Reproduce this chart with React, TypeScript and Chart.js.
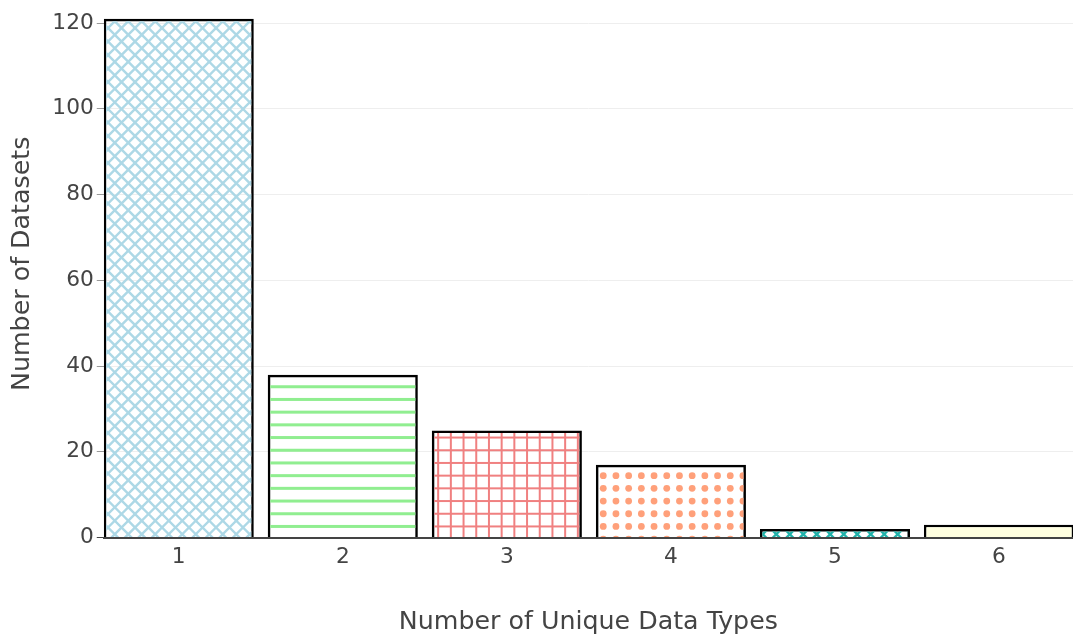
import React, { useEffect, useRef } from "react";
import { Chart, registerables } from "chart.js";

Chart.register(...registerables);

// ---- data ----
const categories: number[] = [1, 2, 3, 4, 5, 6];
const counts: number[] = [121, 38, 25, 17, 2, 3];
const yTickValues: number[] = [0, 20, 40, 60, 80, 100, 120];
const xTitle = "Number of Unique Data Types";
const yTitle = "Number of Datasets";

// pattern kind + colour per bar
const patternKinds: string[] = ["x", "-", "+", ".", "x", "solid"];
const patternColors: string[] = ["#add8e6", "#90ee90", "#f08080", "#ffa07a", "#20b2aa", "#ffffe0"];

const FONT = "'DejaVu Sans', Verdana, sans-serif";
const TEXT = "#444";

function makePattern(kind: string, color: string): CanvasPattern | string {
  if (kind === "solid") return color;
  const n = 10;
  const cell = kind === "x" ? 13.5 : 12.7;
  const size = Math.round(n * cell);
  const c = document.createElement("canvas");
  c.width = size;
  c.height = size;
  const g = c.getContext("2d")!;
  g.strokeStyle = color;
  g.fillStyle = color;
  if (kind === "x") {
    g.lineWidth = 2.4;
    for (let k = -n; k <= 2 * n; k++) {
      g.beginPath();
      g.moveTo(k * cell, 0);
      g.lineTo(k * cell + size, size);
      g.stroke();
      g.beginPath();
      g.moveTo(k * cell, 0);
      g.lineTo(k * cell - size, size);
      g.stroke();
    }
  } else if (kind === "-") {
    for (let i = 0; i < n; i++) {
      const y = i * cell + cell / 2;
      g.fillRect(0, y - 1.5, size, 3);
    }
  } else if (kind === "+") {
    for (let i = 0; i < n; i++) {
      const p = i * cell + cell / 2;
      g.fillRect(0, p - 1, size, 2);
      g.fillRect(p - 1, 0, 2, size);
    }
  } else if (kind === ".") {
    for (let i = 0; i < n; i++) {
      for (let j = 0; j < n; j++) {
        g.beginPath();
        g.arc(i * cell + cell / 2, j * cell + cell / 2, 3.4, 0, Math.PI * 2);
        g.fill();
      }
    }
  }
  return g.createPattern(c, "repeat")!;
}

export default function App() {
  const canvasRef = useRef<HTMLCanvasElement | null>(null);

  useEffect(() => {
    document.body.style.margin = "0";
    const canvas = canvasRef.current;
    if (!canvas) return;
    const backgrounds = patternKinds.map((k, i) => makePattern(k, patternColors[i]));

    const chart = new Chart(canvas, {
      type: "bar",
      data: {
        datasets: [
          {
            data: categories.map((c, i) => ({ x: c, y: counts[i] })),
            backgroundColor: backgrounds as any,
            borderColor: "#000",
            borderWidth: 2.5,
            barPercentage: 0.915,
            categoryPercentage: 1,
          },
        ],
      },
      options: {
        animation: false,
        responsive: true,
        maintainAspectRatio: false,
        layout: { padding: { left: 0, right: 0, top: 0, bottom: 2 } },
        plugins: {
          legend: { display: false },
          tooltip: { enabled: false },
        },
        scales: {
          x: {
            type: "linear",
            min: 0.543,
            max: 6.451,
            offset: false,
            afterBuildTicks: (scale: any) => {
              scale.ticks = categories.map((v) => ({ value: v }));
            },
            grid: { display: false, drawTicks: false, offset: false },
            border: { display: true, color: "#444", width: 2 },
            ticks: {
              color: TEXT,
              font: { family: FONT, size: 21.7 },
              padding: 7,
              callback: (v: any) => String(v),
            },
            title: {
              display: true,
              text: xTitle,
              color: TEXT,
              font: { family: FONT, size: 25.3 },
              padding: { top: 30, bottom: 0 },
            },
          },
          y: {
            min: 0,
            max: 127.7,
            afterBuildTicks: (scale: any) => {
              scale.ticks = yTickValues.map((v) => ({ value: v }));
            },
            grid: {
              color: (ctx: any) => (ctx.tick && ctx.tick.value === 0 ? "rgba(0,0,0,0)" : "#eeeeee"),
              tickColor: (ctx: any) => (ctx.tick && ctx.tick.value === 0 ? "#444" : "#999"),
              tickLength: 7,
              drawTicks: true,
              lineWidth: 1,
            },
            border: { display: false },
            ticks: {
              color: TEXT,
              font: { family: FONT, size: 21.7 },
              padding: 3,
            },
            title: {
              display: true,
              text: yTitle,
              color: TEXT,
              font: { family: FONT, size: 25.3 },
              padding: { top: 7, bottom: 12 },
            },
          },
        },
      },
    });
    return () => chart.destroy();
  }, []);

  return (
    <div style={{ position: "relative", width: 1073, height: 637, overflow: "hidden", background: "#fff" }}>
      <div style={{ position: "absolute", left: 0, top: -26, width: 1073, height: 666 }}>
        <canvas ref={canvasRef} />
      </div>
    </div>
  );
}
